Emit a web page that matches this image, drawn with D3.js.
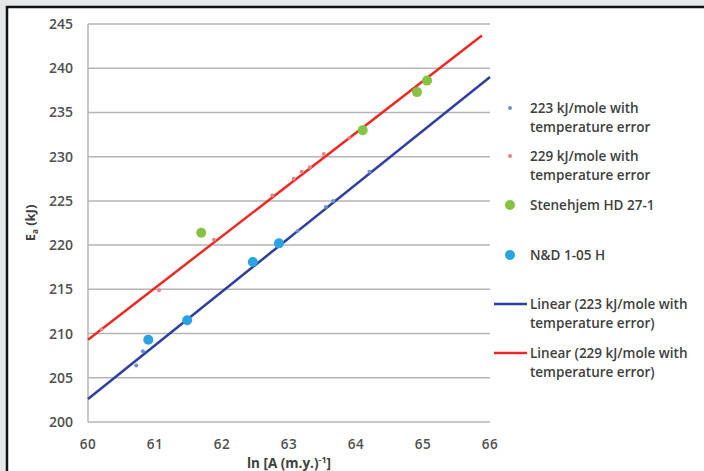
<!DOCTYPE html>
<html>
<head>
<meta charset="utf-8">
<script src="https://cdn.jsdelivr.net/npm/d3@7"></script>
<style>
  body { margin: 0; background: #e4e6ea; }
  svg text { font-family: "Open Sans", "Liberation Sans", sans-serif; fill: #404040; }
</style>
</head>
<body>
<div id="chart"></div>
<script>
// data
var xTicks = [60, 61, 62, 63, 64, 65, 66];
var yTicks = [200, 205, 210, 215, 220, 225, 230, 235, 240, 245];

var err223X = [60.72, 60.82, 63.13, 63.55, 63.66, 64.2];
var err223Y = [206.4, 208.0, 221.6, 224.3, 225.0, 228.3];

var err229X = [60.2, 61.06, 61.88, 62.75, 63.07, 63.19, 63.31, 63.52, 63.9];
var err229Y = [210.5, 214.9, 220.6, 225.6, 227.5, 228.3, 228.8, 230.3, 232.1];

var stenX = [61.69, 64.1, 64.91, 65.06];
var stenY = [221.4, 233.0, 237.3, 238.6];

var ndX = [60.9, 61.48, 62.46, 62.85];
var ndY = [209.3, 211.5, 218.1, 220.2];

var lin223X = [60, 66];
var lin223Y = [202.6, 239.0];
var lin229X = [60, 65.88];
var lin229Y = [209.3, 243.7];

var legendLabels = [
	["223 kJ/mole with", "temperature error"],
	["229 kJ/mole with", "temperature error"],
	["Stenehjem HD 27-1"],
	["N&D 1-05 H"],
	["Linear (223 kJ/mole with", "temperature error)"],
	["Linear (229 kJ/mole with", "temperature error)"]
];

var W = 704, H = 471;
var margin = {top: 24, left: 88, right: 214, bottom: 49};

var svg = d3.select("#chart").append("svg")
	.attr("width", W)
	.attr("height", H);

// frame
svg.append("rect")
	.attr("x", 7).attr("y", 7)
	.attr("width", W + 10).attr("height", H + 10)
	.attr("fill", "#fff")
	.attr("stroke", "#111")
	.attr("stroke-width", 2.5);

var x = d3.scaleLinear().domain([60, 66]).range([margin.left, W - margin.right]);
var y = d3.scaleLinear().domain([200, 245]).range([H - margin.bottom, margin.top]);

// grid
svg.append("g").selectAll("line")
	.data(yTicks)
	.enter().append("line")
		.attr("x1", x(60)).attr("x2", x(66))
		.attr("y1", function (d) { return y(d); })
		.attr("y2", function (d) { return y(d); })
		.attr("stroke", "#b4b4b4")
		.attr("stroke-width", 1.5);

svg.append("line")
	.attr("x1", x(60)).attr("x2", x(60))
	.attr("y1", y(245)).attr("y2", y(200))
	.attr("stroke", "#b4b4b4")
	.attr("stroke-width", 1.5);

// tick labels
svg.append("g").selectAll("text")
	.data(yTicks)
	.enter().append("text")
		.attr("x", x(60) - 15)
		.attr("y", function (d) { return y(d); })
		.attr("dy", "0.36em")
		.attr("text-anchor", "end")
		.style("font-size", "14px")
		.style("font-weight", "600")
		.style("fill", "#505050")
		.text(function (d) { return d; });

svg.append("g").selectAll("text")
	.data(xTicks)
	.enter().append("text")
		.attr("x", function (d) { return x(d); })
		.attr("y", y(200) + 27)
		.attr("text-anchor", "middle")
		.style("font-size", "13.5px")
		.style("font-weight", "600")
		.style("letter-spacing", "0.5px")
		.style("fill", "#505050")
		.text(function (d) { return d; });

// axis titles
var xt = svg.append("text")
	.attr("x", (x(60) + x(66)) / 2)
	.attr("y", y(200) + 46)
	.attr("text-anchor", "middle")
	.style("font-size", "13.5px")
	.style("font-weight", "700")
	.text("ln [A (m.y.)");
xt.append("tspan").attr("dy", -5).style("font-size", "9px").text("-1");
xt.append("tspan").attr("dy", 5).text("]");

var yt = svg.append("text")
	.attr("transform", "translate(35," + ((y(200) + y(245)) / 2) + ") rotate(-90)")
	.attr("text-anchor", "middle")
	.style("font-size", "13px")
	.style("font-weight", "700")
	.text("E");
yt.append("tspan").attr("dy", 3).style("font-size", "8px").text("a");
yt.append("tspan").attr("dy", -3).text(" (kJ)");

// trend lines
var line = d3.line()
	.x(function (d) { return x(d[0]); })
	.y(function (d) { return y(d[1]); });

svg.append("path")
	.datum(d3.zip(lin223X, lin223Y))
	.attr("d", line)
	.attr("fill", "none")
	.attr("stroke", "#2f3fa0")
	.attr("stroke-width", 2.5);

svg.append("path")
	.datum(d3.zip(lin229X, lin229Y))
	.attr("d", line)
	.attr("fill", "none")
	.attr("stroke", "#ec2a24")
	.attr("stroke-width", 2.5);

// points
function dots(xs, ys, r, col) {
	svg.append("g").selectAll("circle")
		.data(d3.zip(xs, ys))
		.enter().append("circle")
			.attr("cx", function (d) { return x(d[0]); })
			.attr("cy", function (d) { return y(d[1]); })
			.attr("r", r)
			.attr("fill", col);
}
dots(err223X, err223Y, 2, "#6f8fd2");
dots(err229X, err229Y, 2, "#e58484");
dots(stenX, stenY, 5, "#84c441");
dots(ndX, ndY, 5, "#2aa3e2");

// legend
var legendY = [108, 156, 205, 255, 304, 353];
var legendKind = [
	{r: 2, col: "#6f8fd2"},
	{r: 2, col: "#e58484"},
	{r: 5, col: "#84c441"},
	{r: 5, col: "#2aa3e2"},
	{line: "#2f3fa0"},
	{line: "#ec2a24"}
];

var leg = svg.append("g");
legendLabels.forEach(function (lab, i) {
	var k = legendKind[i];
	if (k.line) {
		leg.append("line")
			.attr("x1", 494).attr("x2", 527)
			.attr("y1", legendY[i]).attr("y2", legendY[i])
			.attr("stroke", k.line)
			.attr("stroke-width", 2.5);
	} else {
		leg.append("circle")
			.attr("cx", 510).attr("cy", legendY[i])
			.attr("r", k.r)
			.attr("fill", k.col);
	}
	lab.forEach(function (t, j) {
		leg.append("text")
			.attr("x", 530)
			.attr("y", legendY[i] + j * 19)
			.attr("dy", "0.35em")
			.style("font-size", "13.5px")
			.style("font-weight", "600")
			.text(t);
	});
});
</script>
</body>
</html>
